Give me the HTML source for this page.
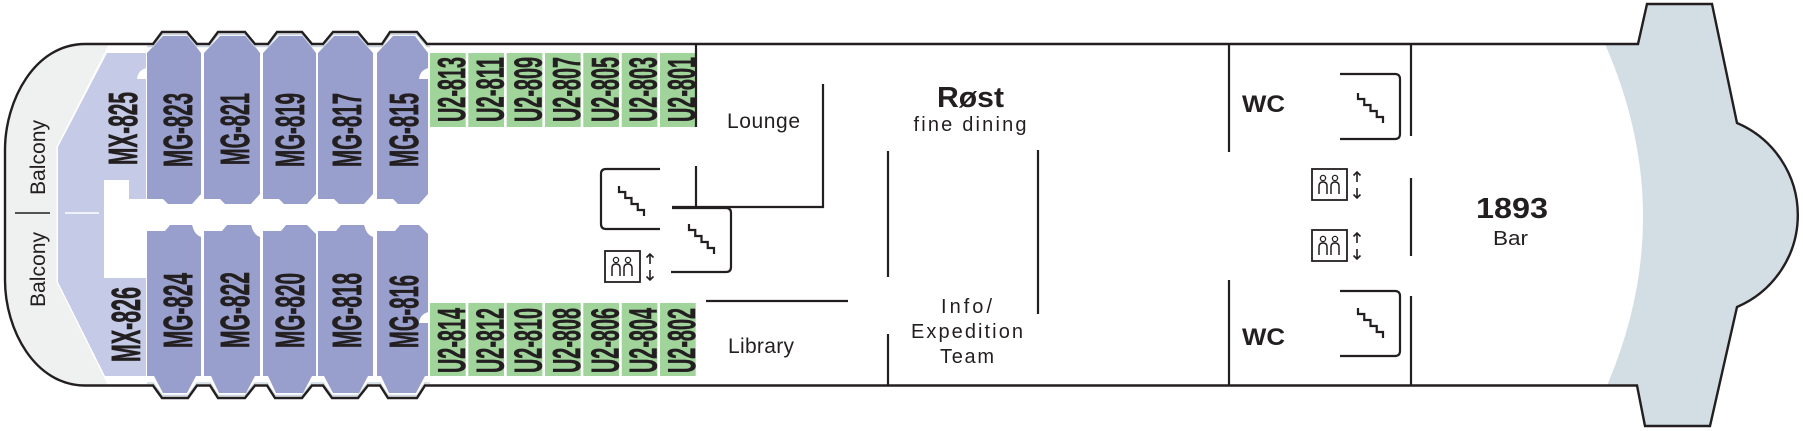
<!DOCTYPE html>
<html><head><meta charset="utf-8"><style>
html,body{margin:0;padding:0;background:#fff}
svg{display:block}
.cab{font-family:"Liberation Sans",sans-serif;font-weight:bold;font-size:41px;fill:#231f20;stroke:#231f20;stroke-width:0.7;text-anchor:middle}
.u2{font-family:"Liberation Sans",sans-serif;font-weight:bold;font-size:39px;fill:#231f20;stroke:#231f20;stroke-width:0.6;text-anchor:middle}
.lbl{font-family:"Liberation Sans",sans-serif;font-size:21px;fill:#231f20;text-anchor:middle}
.sm{font-family:"Liberation Sans",sans-serif;font-size:20px;fill:#231f20;text-anchor:middle}
.bd{font-family:"Liberation Sans",sans-serif;font-weight:bold;fill:#231f20}
.w{fill:none;stroke:#231f20;stroke-width:2.2}
</style></head><body>
<svg width="1803" height="431" viewBox="0 0 1803 431" xmlns="http://www.w3.org/2000/svg">
<rect width="1803" height="431" fill="#fff"/>

<!-- balcony gray -->
<path d="M109,44 H85 C35,44 5,100 5,150 V280 C5,330 35,385.5 85,385.5 H108 L56.5,282 V147 Z" fill="#eff1f0"/>
<!-- MX light purple region -->
<polygon points="107,53 146,53 146,199 129,199 129,180 104,180 104,278 146,278 146,376 105,376 58,282 58,147" fill="#c5cae6"/>
<line x1="65" y1="213" x2="99" y2="213" stroke="#fff" stroke-width="1.5"/>

<!-- bow blue -->
<path d="M1605,44 H1638 L1647,4 H1712 L1737,123 A100,100 0 0 1 1737,307 L1710,426 H1645 L1637,385.5 H1607 Q1680,215 1605,44 Z" fill="#d3dee4"/>

<!-- MG cabins -->
<g fill="#989fcd">
<polygon points="147,53 163,36 188,36 201,53 201,194 192,204 168,204 163,199 147,199"/>
<polygon points="204,53 220,36 247,36 260,53 260,194 251,204 225,204 220,199 204,199"/>
<polygon points="263,53 279,36 303,36 316,53 316,194 307,204 284,204 279,199 263,199"/>
<polygon points="318,53 334,36 358,36 373,53 373,194 364,204 339,204 334,199 318,199"/>
<polygon points="377,53 393,36 415,36 428,53 428,194 419,204 398,204 393,199 377,199"/>
<polygon points="147,231 165,231 170,225 192,225 201,234 201,376 196,376 187,393 163,393 154,376 147,376"/>
<polygon points="204,231 222,231 227,225 251,225 260,234 260,376 255,376 246,393 219,393 211,376 204,376"/>
<polygon points="263,231 281,231 286,225 307,225 316,234 316,376 312,376 303,393 276,393 268,376 263,376"/>
<polygon points="318,231 336,231 341,225 364,225 373,234 373,376 368,376 359,393 333,393 324,376 318,376"/>
<polygon points="377,231 395,231 400,225 419,225 428,234 428,376 425,376 416,393 389,393 381,376 377,376"/>
</g>
<!-- door notches -->
<g fill="#fff">
<path d="M146.5,68 Q138,70 137,79 H146.5 Z"/>
<path d="M428.5,68 Q420,70 419,79 H428.5 Z"/>
<path d="M192,224 Q194,235 201.5,237 V224 Z"/>
<path d="M251,224 Q253,235 260.5,237 V224 Z"/>
<path d="M364,224 Q366,235 373.5,237 V224 Z"/>
<path d="M428.5,312 Q420,314 419,323 H428.5 Z"/>
</g>

<!-- U2 cells -->
<g fill="#a0d49b">
<rect x="430" y="53" width="35.7" height="74"/>
<rect x="468.3" y="53" width="35.7" height="74"/>
<rect x="506.7" y="53" width="35.7" height="74"/>
<rect x="545" y="53" width="35.7" height="74"/>
<rect x="583.3" y="53" width="35.7" height="74"/>
<rect x="621.7" y="53" width="35.7" height="74"/>
<rect x="660" y="53" width="35.7" height="74"/>
<rect x="430" y="303" width="35.7" height="73"/>
<rect x="468.3" y="303" width="35.7" height="73"/>
<rect x="506.7" y="303" width="35.7" height="73"/>
<rect x="545" y="303" width="35.7" height="73"/>
<rect x="583.3" y="303" width="35.7" height="73"/>
<rect x="621.7" y="303" width="35.7" height="73"/>
<rect x="660" y="303" width="35.7" height="73"/>
</g>

<!-- light blue inner lines along bumps -->
<path d="M147,46.5 H153 L162,34.5 H187 L197,46.5 H209 L218,34.5 H245 L255,46.5 H268 L277,34.5 H302 L312,46.5 H323 L333,34.5 H358 L368,46.5 H382 L390,34.5 H417 L427,46.5 H430" fill="none" stroke="#c9d6df" stroke-width="1.6"/>
<path d="M147,383 H153 L162,395.5 H188 L197,383 H210 L218,395.5 H245 L255,383 H267 L275,395.5 H302 L312,383 H323 L332,395.5 H358 L368,383 H380 L388,395.5 H417 L425,383 H430" fill="none" stroke="#c9d6df" stroke-width="1.6"/>

<!-- hull outline -->
<path d="M85,44 H153 L162,32 H187 L197,44 H209 L218,32 H245 L255,44 H268 L277,32 H302 L312,44 H323 L333,32 H358 L368,44 H382 L390,32 H417 L427,44 H1638 L1647,4 H1712 L1737,123 A100,100 0 0 1 1737,307 L1710,426 H1645 L1637,385.5 H425 L417,398 H388 L380,385.5 H368 L358,398 H332 L323,385.5 H312 L302,398 H275 L267,385.5 H255 L245,398 H218 L210,385.5 H197 L188,398 H162 L153,385.5 H85 C35,385.5 5,330 5,280 V150 C5,100 35,44 85,44 Z" fill="none" stroke="#231f20" stroke-width="2.4" stroke-linejoin="miter"/>

<!-- interior walls -->
<g class="w">
<line x1="696" y1="44" x2="696" y2="127"/>
<polyline points="823,84 823,207 672,207"/>
<line x1="696" y1="166" x2="696" y2="207"/>
<path d="M660,169 H606 Q601,169 601,174 V224 Q601,229 606,229 H660"/>
<path d="M672,208 H726 Q731,208 731,213 V267 Q731,272 726,272 H671"/>
<line x1="706" y1="301" x2="848" y2="301"/>
<line x1="888" y1="151" x2="888" y2="277"/>
<line x1="888" y1="334" x2="888" y2="386"/>
<line x1="1038" y1="150" x2="1038" y2="314"/>
<line x1="1229" y1="44" x2="1229" y2="152"/>
<line x1="1229" y1="280" x2="1229" y2="386"/>
<line x1="1411" y1="44" x2="1411" y2="136"/>
<line x1="1411" y1="178" x2="1411" y2="256"/>
<line x1="1411" y1="296" x2="1411" y2="386"/>
<path d="M1340,74 H1395 Q1400,74 1400,79 V134 Q1400,139 1395,139 H1340"/>
<path d="M1340,291 H1395 Q1400,291 1400,296 V351 Q1400,356 1395,356 H1340"/>
</g>

<!-- stairs -->
<g class="w">
<path transform="translate(619,186)" d="M0,0 V6 H6.25 V12 H12.5 V18 H18.75 V24 H25 V30"/>
<path transform="translate(689,224)" d="M0,0 V6 H6.25 V12 H12.5 V18 H18.75 V24 H25 V30"/>
<path transform="translate(1358,93)" d="M0,0 V6 H6.25 V12 H12.5 V18 H18.75 V24 H25 V30"/>
<path transform="translate(1358,308)" d="M0,0 V6 H6.25 V12 H12.5 V18 H18.75 V24 H25 V30"/>
</g>

<!-- elevators -->
<defs>
<g id="elev" fill="none" stroke="#231f20">
<rect x="0" y="0" width="35" height="31" stroke-width="1.8"/>
<circle cx="11" cy="9" r="2.6" stroke-width="1.3"/>
<circle cx="23" cy="9" r="2.6" stroke-width="1.3"/>
<path d="M7,25 V17 Q7,13 11,13 Q15,13 15,17 V25 M19,25 V17 Q19,13 23,13 Q27,13 27,17 V25" stroke-width="1.5"/>
<path d="M45,3 V13 M41.5,6.5 L45,3 L48.5,6.5 M45,19 V29 M41.5,25.5 L45,29 L48.5,25.5" stroke-width="1.6"/>
</g>
</defs>
<use href="#elev" x="605" y="251"/>
<use href="#elev" x="1312" y="169"/>
<use href="#elev" x="1312" y="230"/>

<!-- balcony labels -->
<text class="lbl" transform="translate(45,157.5) rotate(-90)" textLength="75" lengthAdjust="spacingAndGlyphs">Balcony</text>
<text class="lbl" transform="translate(45,269.5) rotate(-90)" textLength="75" lengthAdjust="spacingAndGlyphs">Balcony</text>
<line x1="15" y1="213" x2="50" y2="213" stroke="#231f20" stroke-width="1.6"/>

<!-- MX / MG labels -->
<text class="cab" transform="translate(137,128.5) rotate(-90)" textLength="73" lengthAdjust="spacingAndGlyphs">MX-825</text>
<text class="cab" transform="translate(140,324.5) rotate(-90)" textLength="75" lengthAdjust="spacingAndGlyphs">MX-826</text>
<text class="cab" transform="translate(192,130) rotate(-90)" textLength="74" lengthAdjust="spacingAndGlyphs">MG-823</text>
<text class="cab" transform="translate(249,129) rotate(-90)" textLength="72" lengthAdjust="spacingAndGlyphs">MG-821</text>
<text class="cab" transform="translate(304,130) rotate(-90)" textLength="74" lengthAdjust="spacingAndGlyphs">MG-819</text>
<text class="cab" transform="translate(361,130) rotate(-90)" textLength="74" lengthAdjust="spacingAndGlyphs">MG-817</text>
<text class="cab" transform="translate(418,130) rotate(-90)" textLength="74" lengthAdjust="spacingAndGlyphs">MG-815</text>
<text class="cab" transform="translate(192,310.5) rotate(-90)" textLength="75" lengthAdjust="spacingAndGlyphs">MG-824</text>
<text class="cab" transform="translate(249,310) rotate(-90)" textLength="76" lengthAdjust="spacingAndGlyphs">MG-822</text>
<text class="cab" transform="translate(304,310.5) rotate(-90)" textLength="75" lengthAdjust="spacingAndGlyphs">MG-820</text>
<text class="cab" transform="translate(361,310.5) rotate(-90)" textLength="75" lengthAdjust="spacingAndGlyphs">MG-818</text>
<text class="cab" transform="translate(418,311.5) rotate(-90)" textLength="73" lengthAdjust="spacingAndGlyphs">MG-816</text>

<!-- U2 labels -->
<text class="u2" transform="translate(465,89.5) rotate(-90)" textLength="65" lengthAdjust="spacingAndGlyphs">U2-813</text>
<text class="u2" transform="translate(503.3,89.5) rotate(-90)" textLength="65" lengthAdjust="spacingAndGlyphs">U2-811</text>
<text class="u2" transform="translate(541.7,89.5) rotate(-90)" textLength="65" lengthAdjust="spacingAndGlyphs">U2-809</text>
<text class="u2" transform="translate(580,89.5) rotate(-90)" textLength="65" lengthAdjust="spacingAndGlyphs">U2-807</text>
<text class="u2" transform="translate(618.3,89.5) rotate(-90)" textLength="65" lengthAdjust="spacingAndGlyphs">U2-805</text>
<text class="u2" transform="translate(656.7,89.5) rotate(-90)" textLength="65" lengthAdjust="spacingAndGlyphs">U2-803</text>
<text class="u2" transform="translate(695,89.5) rotate(-90)" textLength="65" lengthAdjust="spacingAndGlyphs">U2-801</text>
<text class="u2" transform="translate(465,340.5) rotate(-90)" textLength="65" lengthAdjust="spacingAndGlyphs">U2-814</text>
<text class="u2" transform="translate(503.3,340.5) rotate(-90)" textLength="65" lengthAdjust="spacingAndGlyphs">U2-812</text>
<text class="u2" transform="translate(541.7,340.5) rotate(-90)" textLength="65" lengthAdjust="spacingAndGlyphs">U2-810</text>
<text class="u2" transform="translate(580,340.5) rotate(-90)" textLength="65" lengthAdjust="spacingAndGlyphs">U2-808</text>
<text class="u2" transform="translate(618.3,340.5) rotate(-90)" textLength="65" lengthAdjust="spacingAndGlyphs">U2-806</text>
<text class="u2" transform="translate(656.7,340.5) rotate(-90)" textLength="65" lengthAdjust="spacingAndGlyphs">U2-804</text>
<text class="u2" transform="translate(695,340.5) rotate(-90)" textLength="65" lengthAdjust="spacingAndGlyphs">U2-802</text>

<!-- room labels -->
<text class="lbl" x="763.5" y="128" textLength="73" lengthAdjust="spacing">Lounge</text>
<text class="lbl" x="761" y="353" textLength="66" lengthAdjust="spacing">Library</text>
<text class="bd" x="970.5" y="107" font-size="29" text-anchor="middle" textLength="67" lengthAdjust="spacingAndGlyphs">Røst</text>
<text class="sm" x="970" y="131" textLength="113" lengthAdjust="spacing">fine dining</text>
<text class="sm" x="966.5" y="313" textLength="51" lengthAdjust="spacing">Info/</text>
<text class="sm" x="967" y="338" textLength="112" lengthAdjust="spacing">Expedition</text>
<text class="sm" x="967" y="363" textLength="54" lengthAdjust="spacing">Team</text>
<text class="bd" x="1242" y="112" font-size="24" textLength="43" lengthAdjust="spacingAndGlyphs">WC</text>
<text class="bd" x="1242" y="345" font-size="24" textLength="43" lengthAdjust="spacingAndGlyphs">WC</text>
<text class="bd" x="1512" y="218" font-size="29" text-anchor="middle" textLength="72" lengthAdjust="spacingAndGlyphs">1893</text>
<text class="sm" x="1510.5" y="245" textLength="35" lengthAdjust="spacingAndGlyphs">Bar</text>
</svg>
</body></html>
